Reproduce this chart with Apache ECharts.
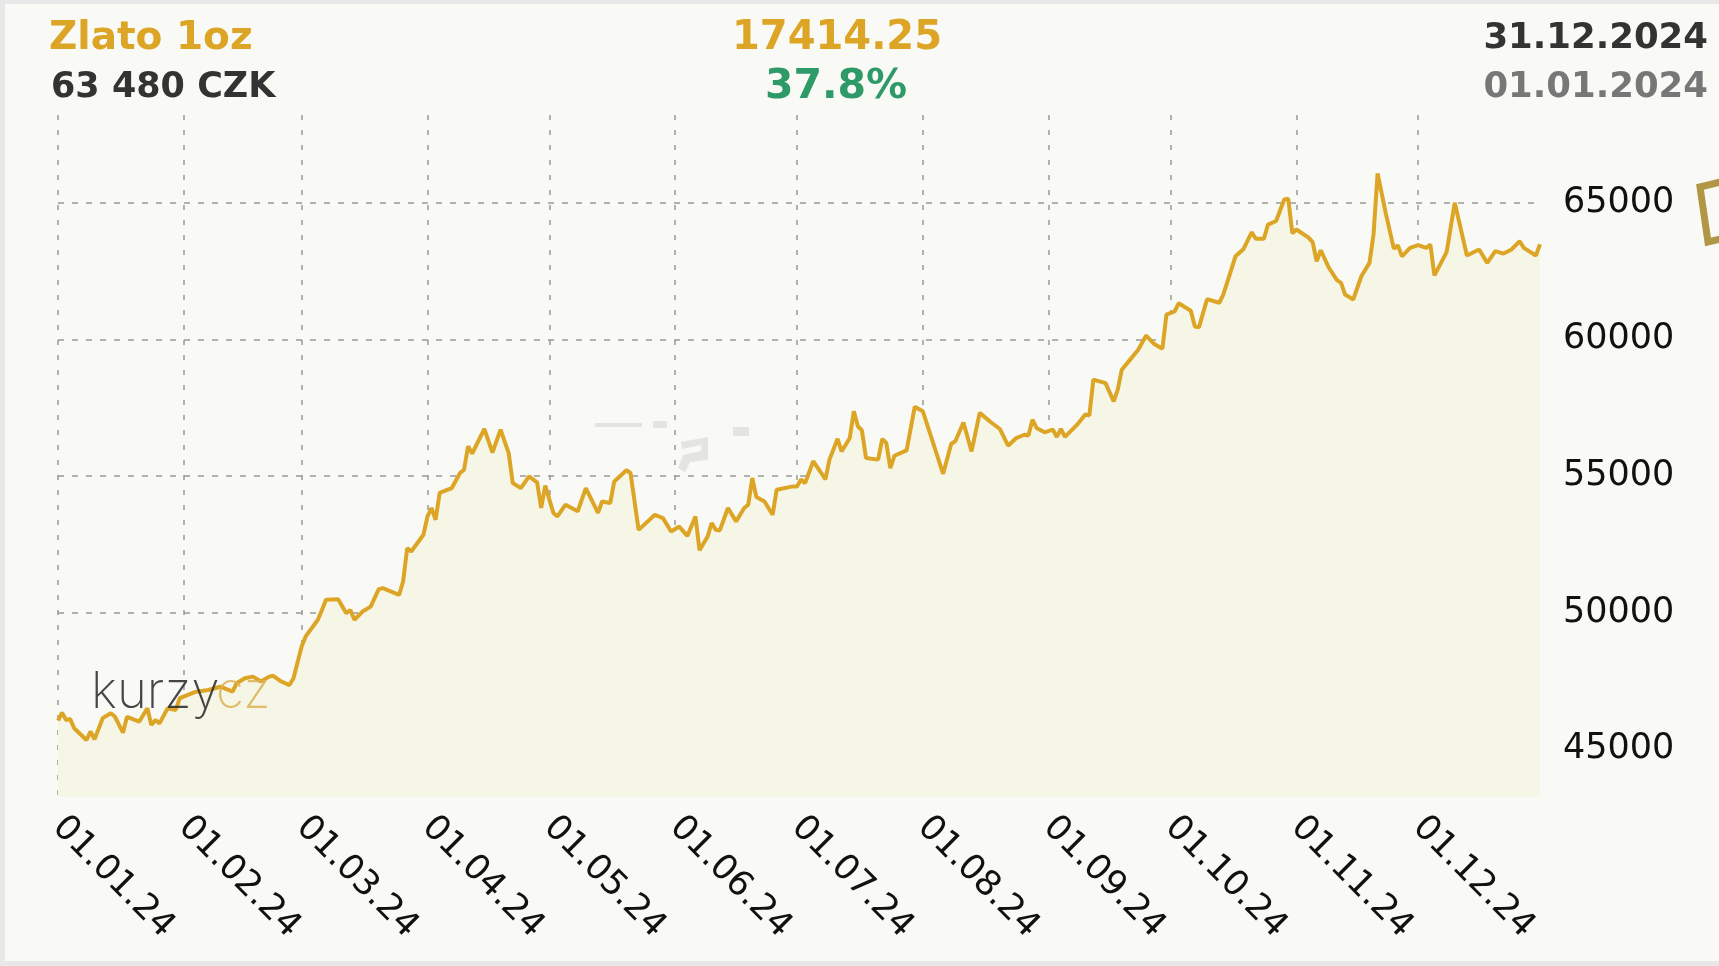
<!DOCTYPE html>
<html>
<head>
<meta charset="utf-8">
<title>Zlato 1oz</title>
<script src="https://cdn.jsdelivr.net/npm/echarts@6/dist/echarts.min.js"></script>
<style>
  html, body { margin: 0; padding: 0; background: #e8e8e8; overflow: hidden; }
  #chart { position: absolute; left: 5px; top: 4px; width: 1714px; height: 957px; }
</style>
</head>
<body>
<div id="chart"></div>
<script>
// gold price in CZK per troy ounce, 2024
var dates = [
  '2024-01-01','2024-01-02','2024-01-03','2024-01-04','2024-01-05','2024-01-08','2024-01-09','2024-01-10','2024-01-12','2024-01-14','2024-01-15','2024-01-17','2024-01-18','2024-01-21','2024-01-23','2024-01-24','2024-01-25','2024-01-26','2024-01-28','2024-01-30','2024-01-31',
  '2024-02-02','2024-02-04','2024-02-07','2024-02-10','2024-02-13','2024-02-14','2024-02-16','2024-02-18','2024-02-20','2024-02-22','2024-02-23','2024-02-25','2024-02-27','2024-02-28',
  '2024-03-01','2024-03-02','2024-03-05','2024-03-06','2024-03-07','2024-03-10','2024-03-12','2024-03-13','2024-03-14','2024-03-16','2024-03-18','2024-03-20','2024-03-21','2024-03-25','2024-03-26','2024-03-27','2024-03-28','2024-03-31',
  '2024-04-01','2024-04-02','2024-04-03','2024-04-04','2024-04-06','2024-04-07','2024-04-09','2024-04-10','2024-04-11','2024-04-12','2024-04-15','2024-04-17','2024-04-19','2024-04-21','2024-04-22','2024-04-24','2024-04-26','2024-04-28','2024-04-29','2024-04-30',
  '2024-05-02','2024-05-03','2024-05-05','2024-05-08','2024-05-10','2024-05-13','2024-05-14','2024-05-16','2024-05-17','2024-05-20','2024-05-21','2024-05-23','2024-05-27','2024-05-29','2024-05-31',
  '2024-06-02','2024-06-04','2024-06-06','2024-06-07','2024-06-09','2024-06-10','2024-06-11','2024-06-12','2024-06-14','2024-06-16','2024-06-18','2024-06-19','2024-06-20','2024-06-21','2024-06-23','2024-06-25','2024-06-26','2024-06-30',
  '2024-07-01','2024-07-02','2024-07-03','2024-07-05','2024-07-07','2024-07-08','2024-07-09','2024-07-11','2024-07-12','2024-07-14','2024-07-15','2024-07-16','2024-07-17','2024-07-18','2024-07-21','2024-07-22','2024-07-23','2024-07-24','2024-07-25','2024-07-28','2024-07-30',
  '2024-08-01','2024-08-06','2024-08-08','2024-08-09','2024-08-11','2024-08-13','2024-08-15','2024-08-18','2024-08-20','2024-08-22','2024-08-24','2024-08-26','2024-08-27','2024-08-28','2024-08-29','2024-08-31',
  '2024-09-02','2024-09-03','2024-09-04','2024-09-05','2024-09-08','2024-09-10','2024-09-11','2024-09-12','2024-09-15','2024-09-17','2024-09-18','2024-09-19','2024-09-21','2024-09-23','2024-09-25','2024-09-27','2024-09-29','2024-09-30',
  '2024-10-02','2024-10-03','2024-10-06','2024-10-07','2024-10-08','2024-10-10','2024-10-13','2024-10-14','2024-10-17','2024-10-19','2024-10-21','2024-10-22','2024-10-24','2024-10-25','2024-10-27','2024-10-29','2024-10-30','2024-10-31',
  '2024-11-01','2024-11-04','2024-11-05','2024-11-06','2024-11-07','2024-11-09','2024-11-11','2024-11-12','2024-11-13','2024-11-15','2024-11-17','2024-11-19','2024-11-20','2024-11-21','2024-11-23','2024-11-25','2024-11-26','2024-11-27','2024-11-29',
  '2024-12-01','2024-12-03','2024-12-04','2024-12-05','2024-12-08','2024-12-10','2024-12-13','2024-12-16','2024-12-18','2024-12-20','2024-12-22','2024-12-24','2024-12-26','2024-12-27','2024-12-30','2024-12-31'
];
var prices = [
  46050,46340,46070,46110,45770,45340,45650,45370,46140,46320,46200,45610,46190,46010,46500,45890,46070,45950,46500,46440,46870,
  46990,47110,47170,47290,47110,47420,47600,47660,47480,47660,47690,47480,47350,47600,
  48760,49130,49740,50100,50470,50490,49980,50100,49740,50040,50220,50860,50900,50650,51140,52360,52240,52850,
  53520,53830,53400,54380,54500,54560,55110,55230,56090,55820,56720,55860,56700,55840,54740,54560,54990,54770,53830,54650,
  53650,53520,53950,53710,54560,53650,54070,54010,54800,55210,55110,53030,53580,53460,52970,
  53150,52810,53520,52280,52790,53280,53030,53010,53830,53340,53830,53950,54930,54230,54070,53580,54500,54620,
  54620,54870,54740,55540,55110,54880,55600,56360,55900,56390,57370,56820,56670,55660,55600,56360,56210,55290,55740,55940,57530,
  57370,55080,56180,56270,56960,55900,57310,56940,56720,56110,56390,56510,56480,57060,56760,56600,
  56700,56430,56720,56430,56880,57250,57210,58530,58400,57730,58160,58890,59250,59610,60140,59830,59660,60910,
  61020,61320,61050,60470,60440,61470,61340,61640,63040,63310,63920,63680,63680,64200,64330,65120,65150,63880,
  64020,63720,63560,62860,63260,62620,62170,62070,61640,61460,62310,62800,63840,66070,64630,63320,63440,63040,63350,
  63450,63350,63470,62340,63190,65000,63070,63290,62800,63230,63140,63290,63590,63350,63070,63480
];
var monthTicks = ['2024-01-01','2024-02-01','2024-03-01','2024-04-01','2024-05-01','2024-06-01',
                  '2024-07-01','2024-08-01','2024-09-01','2024-10-01','2024-11-01','2024-12-01'];
var yStep = 5000;

var headName = 'Zlato 1oz';
var headPrice = '63 480 CZK';
var headChange = '17414.25';
var headPercent = '37.8%';
var headDateTo = '31.12.2024';
var headDateFrom = '01.01.2024';

var gold = '#dda526';
var font = '"DejaVu Sans", Verdana, sans-serif';

function toTime(s) {
  var p = s.split('-');
  return new Date(+p[0], +p[1] - 1, +p[2]).getTime();
}
function pad(n) {
  return n < 10 ? '0' + n : '' + n;
}

var seriesData = dates.map(function (d, i) {
  return [toTime(d), prices[i]];
});
var monthValues = monthTicks.map(toTime);

var chart = echarts.init(document.getElementById('chart'));

var option = {
  animation: false,
  backgroundColor: '#f9faf5',
  textStyle: { fontFamily: font },
  grid: {
    left: 53,
    top: 111,
    width: 1482,
    height: 682
  },
  xAxis: {
    type: 'value',
    min: toTime('2024-01-01'),
    max: toTime('2024-12-31'),
    axisLine: { show: false },
    axisTick: {
      show: false,
      customValues: monthValues
    },
    axisLabel: {
      customValues: monthValues,
      hideOverlap: false,
      showMinLabel: true,
      showMaxLabel: true,
      rotate: -45,
      margin: 25,
      fontSize: 35,
      color: '#111',
      fontFamily: font,
      formatter: function (v) {
        var d = new Date(v);
        return pad(d.getDate()) + '.' + pad(d.getMonth() + 1) + '.' + String(d.getFullYear()).slice(2);
      }
    },
    splitLine: {
      show: true,
      lineStyle: { color: '#999', width: 1.5, type: [5, 10] }
    }
  },
  yAxis: {
    type: 'value',
    position: 'right',
    min: 43255,
    max: 68210,
    splitNumber: 5,
    axisLine: { show: false },
    axisTick: { show: false },
    axisLabel: {
      margin: 23,
      fontSize: 35,
      color: '#111',
      fontFamily: font,
      showMinLabel: false,
      showMaxLabel: false,
      formatter: function (v) {
        return v % yStep === 0 ? String(v) : '';
      }
    },
    splitLine: {
      show: true,
      showMinLine: false,
      showMaxLine: false,
      lineStyle: { color: '#999', width: 1.5, type: [6, 8] }
    }
  },
  series: [
    {
      type: 'line',
      data: seriesData,
      showSymbol: false,
      symbol: 'none',
      smooth: false,
      lineStyle: { color: gold, width: 4 },
      areaStyle: { color: '#f6f6e7', opacity: 1, origin: 'start' },
      z: 3
    }
  ],
  graphic: [
    // header
    { type: 'text', x: 44, y: 35, z: 10, style: { text: headName, fill: gold, font: 'bold 39px ' + font, align: 'left', verticalAlign: 'middle' } },
    { type: 'text', x: 46, y: 83.5, z: 10, style: { text: headPrice, fill: '#333', font: 'bold 35px ' + font, align: 'left', verticalAlign: 'middle' } },
    { type: 'text', x: 832, y: 35, z: 10, style: { text: headChange, fill: gold, font: 'bold 40px ' + font, align: 'center', verticalAlign: 'middle' } },
    { type: 'text', x: 831, y: 83.5, z: 10, style: { text: headPercent, fill: '#2e9a68', font: 'bold 41px ' + font, align: 'center', verticalAlign: 'middle' } },
    { type: 'text', x: 1703, y: 35, z: 10, style: { text: headDateTo, fill: '#333', font: 'bold 35.5px ' + font, align: 'right', verticalAlign: 'middle' } },
    { type: 'text', x: 1703, y: 83.5, z: 10, style: { text: headDateFrom, fill: '#777', font: 'bold 35.5px ' + font, align: 'right', verticalAlign: 'middle' } },
    // kurzy.cz logo
    { type: 'text', x: 86, y: 689, z: 20, style: { text: 'kurzy', fill: 'rgba(50,50,50,0.9)', font: '200 51px Inter, "DejaVu Sans"', align: 'left', verticalAlign: 'middle' } },
    { type: 'text', x: 211, y: 689, z: 20, style: { text: 'cz', fill: 'rgba(218,178,80,0.85)', font: '200 51px Inter, "DejaVu Sans"', align: 'left', verticalAlign: 'middle' } },
    // faint mark in the middle
    { type: 'rect', z: 1, shape: { x: 590, y: 419, width: 47, height: 4 }, style: { fill: '#e4e4e0' } },
    { type: 'rect', z: 1, shape: { x: 648, y: 417, width: 14, height: 7 }, style: { fill: '#e4e4e0' } },
    { type: 'rect', z: 1, shape: { x: 728, y: 423, width: 16, height: 9 }, style: { fill: '#e4e4e0' } },
    { type: 'polygon', z: 1, shape: { points: [[676, 438], [703, 433], [703, 456], [685, 458], [680, 468], [673, 464], [678, 451], [696, 447], [696, 441], [677, 445]] }, style: { fill: '#e4e4e0' } },
    // corner icon
    { type: 'polyline', z: 10, shape: { points: [[1720, 177], [1695, 183], [1703, 238], [1720, 234]] }, style: { stroke: '#b09645', lineWidth: 7, lineJoin: 'miter', fill: null } }
  ]
};

chart.setOption(option);
</script>
</body>
</html>
